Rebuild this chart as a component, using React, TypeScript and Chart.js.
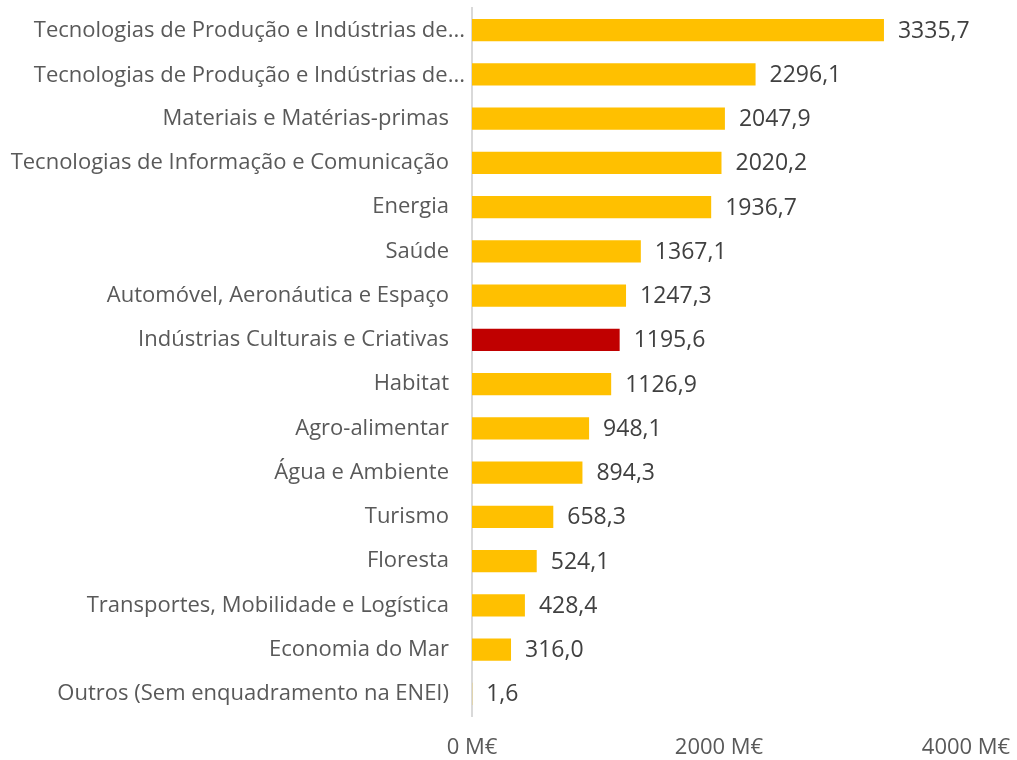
import React, { useEffect, useRef } from "react";
import { Chart, registerables } from "chart.js";

Chart.register(...registerables);

const categories = [
  "Tecnologias de Produção e Indústrias de...",
  "Tecnologias de Produção e Indústrias de...",
  "Materiais e Matérias-primas",
  "Tecnologias de Informação e Comunicação",
  "Energia",
  "Saúde",
  "Automóvel, Aeronáutica e Espaço",
  "Indústrias Culturais e Criativas",
  "Habitat",
  "Agro-alimentar",
  "Água e Ambiente",
  "Turismo",
  "Floresta",
  "Transportes, Mobilidade e Logística",
  "Economia do Mar",
  "Outros (Sem enquadramento na ENEI)",
];

const values = [
  3335.7, 2296.1, 2047.9, 2020.2, 1936.7, 1367.1, 1247.3, 1195.6, 1126.9,
  948.1, 894.3, 658.3, 524.1, 428.4, 316.0, 1.6,
];

const highlightIndex = 7;
const truncatedIdx = [0, 1];
const xTicks = [0, 2000, 4000];

const FONT = "'Open Sans', Lato, sans-serif";

export default function App() {
  const ref = useRef<HTMLCanvasElement | null>(null);

  useEffect(() => {
    if (!ref.current) return;
    const labelPlugin = {
      id: "valueLabels",
      afterDatasetsDraw(chart: any) {
        const ctx = chart.ctx;
        const meta = chart.getDatasetMeta(0);
        ctx.save();
        ctx.font = `23px ${FONT}`;
        ctx.fillStyle = "#404040";
        ctx.textAlign = "left";
        ctx.textBaseline = "middle";
        meta.data.forEach((bar: any, i: number) => {
          const txt = values[i].toFixed(1).replace(".", ",");
          ctx.fillText(txt, bar.x + 14, bar.y + 1);
        });
        // truncated category labels sit closer to the axis
        ctx.font = `22px ${FONT}`;
        ctx.fillStyle = "#595959";
        ctx.textAlign = "right";
        const yScale = chart.scales.y;
        truncatedIdx.forEach((i) => {
          ctx.fillText(categories[i], yScale.right - 7, yScale.getPixelForTick(i) + 1);
        });
        ctx.restore();
      },
    };

    const chart = new Chart(ref.current, {
      type: "bar",
      data: {
        labels: categories,
        datasets: [
          {
            data: values,
            backgroundColor: values.map((_, i) =>
              i === highlightIndex ? "#C00000" : "#FFC000"
            ),
            barPercentage: 0.5,
            categoryPercentage: 1,
          },
        ],
      },
      options: {
        indexAxis: "y",
        responsive: false,
        animation: false,
        maintainAspectRatio: false,
        layout: { padding: { left: 0, right: 51, top: 8, bottom: 0 } },
        plugins: {
          legend: { display: false },
          tooltip: { enabled: false },
        },
        scales: {
          x: {
            min: 0,
            max: 4000,
            afterBuildTicks: (scale: any) => {
              scale.ticks = xTicks.map((v) => ({ value: v }));
            },
            afterFit: (scale: any) => {
              scale.height = 44;
              scale.paddingLeft = 0;
              scale.paddingRight = 0;
            },
            grid: { display: false, drawTicks: false },
            border: { display: false },
            ticks: {
              padding: 19,
              color: "#595959",
              font: { size: 22, family: FONT },
              maxRotation: 0,
              callback: (v: any) => `${v} M€`,
            },
          },
          y: {
            afterFit: (scale: any) => {
              scale.width = 472;
              scale.paddingTop = 0;
              scale.paddingBottom = 0;
            },
            grid: { display: false, drawTicks: false },
            border: { display: true, color: "#D9D9D9", width: 2 },
            ticks: {
              padding: 23,
              color: (ctx: any) =>
                truncatedIdx.includes(ctx.index) ? "rgba(0,0,0,0)" : "#595959",
              font: { size: 22, family: FONT },
              autoSkip: false,
            },
          },
        },
      },
      plugins: [labelPlugin],
    });
    return () => chart.destroy();
  }, []);

  return (
    <div style={{ position: "fixed", left: 0, top: 0, width: 1017, height: 760, background: "#fff" }}>
      <canvas ref={ref} width={1017} height={760} />
    </div>
  );
}
